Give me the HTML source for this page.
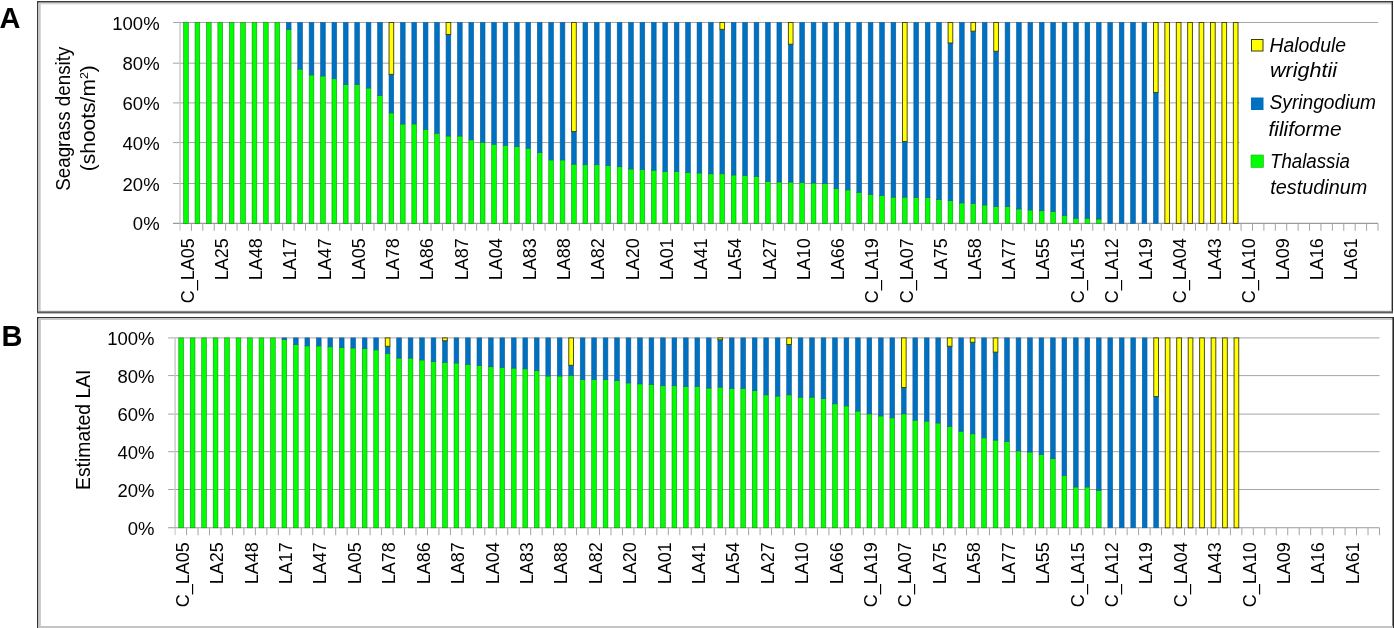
<!DOCTYPE html>
<html><head><meta charset="utf-8"><style>
html,body{margin:0;padding:0;background:#fff;}
body{width:1394px;height:628px;overflow:hidden;}
svg{display:block;will-change:transform;}
text{font-family:"Liberation Sans",sans-serif;fill:#000;}
.t18{font-size:18.5px;}
.tx{font-size:18px;}
.t185{font-size:19.5px;}
.leg{font-size:19.5px;font-style:italic;}
.big{font-size:29px;font-weight:bold;}
</style></head><body>
<svg width="1394" height="628" viewBox="0 0 1394 628">
<rect x="0" y="0" width="1394" height="628" fill="#fff"/>

<!-- panel A frame -->
<rect x="37" y="1" width="1356" height="1.3" fill="#3a3a3a"/>
<rect x="38" y="2.3" width="1354" height="1" fill="#8a8a8a"/>
<rect x="38" y="3.3" width="1354" height="1" fill="#d0d0d0"/>
<rect x="37" y="1" width="1.3" height="312" fill="#3a3a3a"/>
<rect x="38.3" y="3" width="2.4" height="308" fill="#c8c8c8"/>
<rect x="1391.6" y="1" width="1.4" height="312" fill="#2a2a2a"/>
<rect x="37" y="311.2" width="1356" height="2.2" fill="#5a5a5a"/>
<rect x="38" y="310.6" width="1354" height="0.6" fill="#c8c8c8"/>
<!-- panel B frame -->
<rect x="37" y="317" width="1357" height="1.2" fill="#333"/>
<rect x="38" y="318.2" width="1355" height="1.8" fill="#c4c4c4"/>
<rect x="37" y="317" width="1.4" height="311" fill="#333"/>
<rect x="38.4" y="319" width="2.5" height="309" fill="#c8c8c8"/>
<rect x="1392.4" y="317" width="1.6" height="311" fill="#2a2a2a"/>
<rect x="38" y="626" width="1355" height="2" fill="#c4c4c4"/>

<line x1="173" y1="183.5" x2="1239.5" y2="183.5" stroke="#a6a6a6" stroke-width="1"/>
<line x1="173" y1="142.6" x2="1239.5" y2="142.6" stroke="#a6a6a6" stroke-width="1"/>
<line x1="173" y1="102.9" x2="1239.5" y2="102.9" stroke="#a6a6a6" stroke-width="1"/>
<line x1="173" y1="63.2" x2="1239.5" y2="63.2" stroke="#a6a6a6" stroke-width="1"/>
<line x1="173" y1="22.5" x2="1378" y2="22.5" stroke="#a6a6a6" stroke-width="1"/>
<line x1="180" y1="22.5" x2="180" y2="223.4" stroke="#c4c4c4" stroke-width="1.3"/>
<line x1="173" y1="223.4" x2="1378" y2="223.4" stroke="#9a9a9a" stroke-width="1.1"/>
<line x1="180" y1="223.4" x2="180" y2="230.8" stroke="#c4c4c4" stroke-width="1"/>
<line x1="191.41" y1="223.4" x2="191.41" y2="230.8" stroke="#a4a4a4" stroke-width="1"/>
<line x1="202.82" y1="223.4" x2="202.82" y2="230.8" stroke="#a4a4a4" stroke-width="1"/>
<line x1="214.23" y1="223.4" x2="214.23" y2="230.8" stroke="#a4a4a4" stroke-width="1"/>
<line x1="225.64" y1="223.4" x2="225.64" y2="230.8" stroke="#a4a4a4" stroke-width="1"/>
<line x1="237.05" y1="223.4" x2="237.05" y2="230.8" stroke="#a4a4a4" stroke-width="1"/>
<line x1="248.46" y1="223.4" x2="248.46" y2="230.8" stroke="#a4a4a4" stroke-width="1"/>
<line x1="259.87" y1="223.4" x2="259.87" y2="230.8" stroke="#a4a4a4" stroke-width="1"/>
<line x1="271.28" y1="223.4" x2="271.28" y2="230.8" stroke="#a4a4a4" stroke-width="1"/>
<line x1="282.69" y1="223.4" x2="282.69" y2="230.8" stroke="#a4a4a4" stroke-width="1"/>
<line x1="294.1" y1="223.4" x2="294.1" y2="230.8" stroke="#a4a4a4" stroke-width="1"/>
<line x1="305.5" y1="223.4" x2="305.5" y2="230.8" stroke="#a4a4a4" stroke-width="1"/>
<line x1="316.91" y1="223.4" x2="316.91" y2="230.8" stroke="#a4a4a4" stroke-width="1"/>
<line x1="328.32" y1="223.4" x2="328.32" y2="230.8" stroke="#a4a4a4" stroke-width="1"/>
<line x1="339.73" y1="223.4" x2="339.73" y2="230.8" stroke="#a4a4a4" stroke-width="1"/>
<line x1="351.14" y1="223.4" x2="351.14" y2="230.8" stroke="#a4a4a4" stroke-width="1"/>
<line x1="362.55" y1="223.4" x2="362.55" y2="230.8" stroke="#a4a4a4" stroke-width="1"/>
<line x1="373.96" y1="223.4" x2="373.96" y2="230.8" stroke="#a4a4a4" stroke-width="1"/>
<line x1="385.37" y1="223.4" x2="385.37" y2="230.8" stroke="#a4a4a4" stroke-width="1"/>
<line x1="396.78" y1="223.4" x2="396.78" y2="230.8" stroke="#a4a4a4" stroke-width="1"/>
<line x1="408.19" y1="223.4" x2="408.19" y2="230.8" stroke="#a4a4a4" stroke-width="1"/>
<line x1="419.6" y1="223.4" x2="419.6" y2="230.8" stroke="#a4a4a4" stroke-width="1"/>
<line x1="431.01" y1="223.4" x2="431.01" y2="230.8" stroke="#a4a4a4" stroke-width="1"/>
<line x1="442.42" y1="223.4" x2="442.42" y2="230.8" stroke="#a4a4a4" stroke-width="1"/>
<line x1="453.83" y1="223.4" x2="453.83" y2="230.8" stroke="#a4a4a4" stroke-width="1"/>
<line x1="465.24" y1="223.4" x2="465.24" y2="230.8" stroke="#a4a4a4" stroke-width="1"/>
<line x1="476.65" y1="223.4" x2="476.65" y2="230.8" stroke="#a4a4a4" stroke-width="1"/>
<line x1="488.06" y1="223.4" x2="488.06" y2="230.8" stroke="#a4a4a4" stroke-width="1"/>
<line x1="499.47" y1="223.4" x2="499.47" y2="230.8" stroke="#a4a4a4" stroke-width="1"/>
<line x1="510.88" y1="223.4" x2="510.88" y2="230.8" stroke="#a4a4a4" stroke-width="1"/>
<line x1="522.29" y1="223.4" x2="522.29" y2="230.8" stroke="#a4a4a4" stroke-width="1"/>
<line x1="533.7" y1="223.4" x2="533.7" y2="230.8" stroke="#a4a4a4" stroke-width="1"/>
<line x1="545.1" y1="223.4" x2="545.1" y2="230.8" stroke="#a4a4a4" stroke-width="1"/>
<line x1="556.51" y1="223.4" x2="556.51" y2="230.8" stroke="#a4a4a4" stroke-width="1"/>
<line x1="567.92" y1="223.4" x2="567.92" y2="230.8" stroke="#a4a4a4" stroke-width="1"/>
<line x1="579.33" y1="223.4" x2="579.33" y2="230.8" stroke="#a4a4a4" stroke-width="1"/>
<line x1="590.74" y1="223.4" x2="590.74" y2="230.8" stroke="#a4a4a4" stroke-width="1"/>
<line x1="602.15" y1="223.4" x2="602.15" y2="230.8" stroke="#a4a4a4" stroke-width="1"/>
<line x1="613.56" y1="223.4" x2="613.56" y2="230.8" stroke="#a4a4a4" stroke-width="1"/>
<line x1="624.97" y1="223.4" x2="624.97" y2="230.8" stroke="#a4a4a4" stroke-width="1"/>
<line x1="636.38" y1="223.4" x2="636.38" y2="230.8" stroke="#a4a4a4" stroke-width="1"/>
<line x1="647.79" y1="223.4" x2="647.79" y2="230.8" stroke="#a4a4a4" stroke-width="1"/>
<line x1="659.2" y1="223.4" x2="659.2" y2="230.8" stroke="#a4a4a4" stroke-width="1"/>
<line x1="670.61" y1="223.4" x2="670.61" y2="230.8" stroke="#a4a4a4" stroke-width="1"/>
<line x1="682.02" y1="223.4" x2="682.02" y2="230.8" stroke="#a4a4a4" stroke-width="1"/>
<line x1="693.43" y1="223.4" x2="693.43" y2="230.8" stroke="#a4a4a4" stroke-width="1"/>
<line x1="704.84" y1="223.4" x2="704.84" y2="230.8" stroke="#a4a4a4" stroke-width="1"/>
<line x1="716.25" y1="223.4" x2="716.25" y2="230.8" stroke="#a4a4a4" stroke-width="1"/>
<line x1="727.66" y1="223.4" x2="727.66" y2="230.8" stroke="#a4a4a4" stroke-width="1"/>
<line x1="739.07" y1="223.4" x2="739.07" y2="230.8" stroke="#a4a4a4" stroke-width="1"/>
<line x1="750.48" y1="223.4" x2="750.48" y2="230.8" stroke="#a4a4a4" stroke-width="1"/>
<line x1="761.89" y1="223.4" x2="761.89" y2="230.8" stroke="#a4a4a4" stroke-width="1"/>
<line x1="773.3" y1="223.4" x2="773.3" y2="230.8" stroke="#a4a4a4" stroke-width="1"/>
<line x1="784.7" y1="223.4" x2="784.7" y2="230.8" stroke="#a4a4a4" stroke-width="1"/>
<line x1="796.11" y1="223.4" x2="796.11" y2="230.8" stroke="#a4a4a4" stroke-width="1"/>
<line x1="807.52" y1="223.4" x2="807.52" y2="230.8" stroke="#a4a4a4" stroke-width="1"/>
<line x1="818.93" y1="223.4" x2="818.93" y2="230.8" stroke="#a4a4a4" stroke-width="1"/>
<line x1="830.34" y1="223.4" x2="830.34" y2="230.8" stroke="#a4a4a4" stroke-width="1"/>
<line x1="841.75" y1="223.4" x2="841.75" y2="230.8" stroke="#a4a4a4" stroke-width="1"/>
<line x1="853.16" y1="223.4" x2="853.16" y2="230.8" stroke="#a4a4a4" stroke-width="1"/>
<line x1="864.57" y1="223.4" x2="864.57" y2="230.8" stroke="#a4a4a4" stroke-width="1"/>
<line x1="875.98" y1="223.4" x2="875.98" y2="230.8" stroke="#a4a4a4" stroke-width="1"/>
<line x1="887.39" y1="223.4" x2="887.39" y2="230.8" stroke="#a4a4a4" stroke-width="1"/>
<line x1="898.8" y1="223.4" x2="898.8" y2="230.8" stroke="#a4a4a4" stroke-width="1"/>
<line x1="910.21" y1="223.4" x2="910.21" y2="230.8" stroke="#a4a4a4" stroke-width="1"/>
<line x1="921.62" y1="223.4" x2="921.62" y2="230.8" stroke="#a4a4a4" stroke-width="1"/>
<line x1="933.03" y1="223.4" x2="933.03" y2="230.8" stroke="#a4a4a4" stroke-width="1"/>
<line x1="944.44" y1="223.4" x2="944.44" y2="230.8" stroke="#a4a4a4" stroke-width="1"/>
<line x1="955.85" y1="223.4" x2="955.85" y2="230.8" stroke="#a4a4a4" stroke-width="1"/>
<line x1="967.26" y1="223.4" x2="967.26" y2="230.8" stroke="#a4a4a4" stroke-width="1"/>
<line x1="978.67" y1="223.4" x2="978.67" y2="230.8" stroke="#a4a4a4" stroke-width="1"/>
<line x1="990.08" y1="223.4" x2="990.08" y2="230.8" stroke="#a4a4a4" stroke-width="1"/>
<line x1="1001.49" y1="223.4" x2="1001.49" y2="230.8" stroke="#a4a4a4" stroke-width="1"/>
<line x1="1012.9" y1="223.4" x2="1012.9" y2="230.8" stroke="#a4a4a4" stroke-width="1"/>
<line x1="1024.3" y1="223.4" x2="1024.3" y2="230.8" stroke="#a4a4a4" stroke-width="1"/>
<line x1="1035.71" y1="223.4" x2="1035.71" y2="230.8" stroke="#a4a4a4" stroke-width="1"/>
<line x1="1047.12" y1="223.4" x2="1047.12" y2="230.8" stroke="#a4a4a4" stroke-width="1"/>
<line x1="1058.53" y1="223.4" x2="1058.53" y2="230.8" stroke="#a4a4a4" stroke-width="1"/>
<line x1="1069.94" y1="223.4" x2="1069.94" y2="230.8" stroke="#a4a4a4" stroke-width="1"/>
<line x1="1081.35" y1="223.4" x2="1081.35" y2="230.8" stroke="#a4a4a4" stroke-width="1"/>
<line x1="1092.76" y1="223.4" x2="1092.76" y2="230.8" stroke="#a4a4a4" stroke-width="1"/>
<line x1="1104.17" y1="223.4" x2="1104.17" y2="230.8" stroke="#a4a4a4" stroke-width="1"/>
<line x1="1115.58" y1="223.4" x2="1115.58" y2="230.8" stroke="#a4a4a4" stroke-width="1"/>
<line x1="1126.99" y1="223.4" x2="1126.99" y2="230.8" stroke="#a4a4a4" stroke-width="1"/>
<line x1="1138.4" y1="223.4" x2="1138.4" y2="230.8" stroke="#a4a4a4" stroke-width="1"/>
<line x1="1149.81" y1="223.4" x2="1149.81" y2="230.8" stroke="#a4a4a4" stroke-width="1"/>
<line x1="1161.22" y1="223.4" x2="1161.22" y2="230.8" stroke="#a4a4a4" stroke-width="1"/>
<line x1="1172.63" y1="223.4" x2="1172.63" y2="230.8" stroke="#a4a4a4" stroke-width="1"/>
<line x1="1184.04" y1="223.4" x2="1184.04" y2="230.8" stroke="#a4a4a4" stroke-width="1"/>
<line x1="1195.45" y1="223.4" x2="1195.45" y2="230.8" stroke="#a4a4a4" stroke-width="1"/>
<line x1="1206.86" y1="223.4" x2="1206.86" y2="230.8" stroke="#a4a4a4" stroke-width="1"/>
<line x1="1218.27" y1="223.4" x2="1218.27" y2="230.8" stroke="#a4a4a4" stroke-width="1"/>
<line x1="1229.68" y1="223.4" x2="1229.68" y2="230.8" stroke="#a4a4a4" stroke-width="1"/>
<line x1="1241.09" y1="223.4" x2="1241.09" y2="230.8" stroke="#a4a4a4" stroke-width="1"/>
<line x1="1252.5" y1="223.4" x2="1252.5" y2="230.8" stroke="#a4a4a4" stroke-width="1"/>
<line x1="1263.9" y1="223.4" x2="1263.9" y2="230.8" stroke="#a4a4a4" stroke-width="1"/>
<line x1="1275.31" y1="223.4" x2="1275.31" y2="230.8" stroke="#a4a4a4" stroke-width="1"/>
<line x1="1286.72" y1="223.4" x2="1286.72" y2="230.8" stroke="#a4a4a4" stroke-width="1"/>
<line x1="1298.13" y1="223.4" x2="1298.13" y2="230.8" stroke="#a4a4a4" stroke-width="1"/>
<line x1="1309.54" y1="223.4" x2="1309.54" y2="230.8" stroke="#a4a4a4" stroke-width="1"/>
<line x1="1320.95" y1="223.4" x2="1320.95" y2="230.8" stroke="#a4a4a4" stroke-width="1"/>
<line x1="1332.36" y1="223.4" x2="1332.36" y2="230.8" stroke="#a4a4a4" stroke-width="1"/>
<line x1="1343.77" y1="223.4" x2="1343.77" y2="230.8" stroke="#a4a4a4" stroke-width="1"/>
<line x1="1355.18" y1="223.4" x2="1355.18" y2="230.8" stroke="#a4a4a4" stroke-width="1"/>
<line x1="1366.59" y1="223.4" x2="1366.59" y2="230.8" stroke="#a4a4a4" stroke-width="1"/>
<line x1="1378" y1="223.4" x2="1378" y2="230.8" stroke="#a4a4a4" stroke-width="1"/>
<rect x="183.65" y="22.5" width="4.7" height="200.9" fill="#00ff00" stroke="#1a8a1a" stroke-width="0.6"/>
<rect x="195.06" y="22.5" width="4.7" height="200.9" fill="#00ff00" stroke="#1a8a1a" stroke-width="0.6"/>
<rect x="206.47" y="22.5" width="4.7" height="200.9" fill="#00ff00" stroke="#1a8a1a" stroke-width="0.6"/>
<rect x="217.88" y="22.5" width="4.7" height="200.9" fill="#00ff00" stroke="#1a8a1a" stroke-width="0.6"/>
<rect x="229.29" y="22.5" width="4.7" height="200.9" fill="#00ff00" stroke="#1a8a1a" stroke-width="0.6"/>
<rect x="240.7" y="22.5" width="4.7" height="200.9" fill="#00ff00" stroke="#1a8a1a" stroke-width="0.6"/>
<rect x="252.11" y="22.5" width="4.7" height="200.9" fill="#00ff00" stroke="#1a8a1a" stroke-width="0.6"/>
<rect x="263.52" y="22.5" width="4.7" height="200.9" fill="#00ff00" stroke="#1a8a1a" stroke-width="0.6"/>
<rect x="274.93" y="22.5" width="4.7" height="200.9" fill="#00ff00" stroke="#1a8a1a" stroke-width="0.6"/>
<rect x="286.34" y="29.33" width="4.7" height="194.07" fill="#00ff00" stroke="#1a8a1a" stroke-width="0.6"/>
<rect x="286.34" y="22.5" width="4.7" height="6.83" fill="#0070c0" stroke="#0b5e9c" stroke-width="0.6"/>
<rect x="297.75" y="69.11" width="4.7" height="154.29" fill="#00ff00" stroke="#1a8a1a" stroke-width="0.6"/>
<rect x="297.75" y="22.5" width="4.7" height="46.61" fill="#0070c0" stroke="#0b5e9c" stroke-width="0.6"/>
<rect x="309.16" y="74.93" width="4.7" height="148.47" fill="#00ff00" stroke="#1a8a1a" stroke-width="0.6"/>
<rect x="309.16" y="22.5" width="4.7" height="52.43" fill="#0070c0" stroke="#0b5e9c" stroke-width="0.6"/>
<rect x="320.57" y="75.94" width="4.7" height="147.46" fill="#00ff00" stroke="#1a8a1a" stroke-width="0.6"/>
<rect x="320.57" y="22.5" width="4.7" height="53.44" fill="#0070c0" stroke="#0b5e9c" stroke-width="0.6"/>
<rect x="331.98" y="78.75" width="4.7" height="144.65" fill="#00ff00" stroke="#1a8a1a" stroke-width="0.6"/>
<rect x="331.98" y="22.5" width="4.7" height="56.25" fill="#0070c0" stroke="#0b5e9c" stroke-width="0.6"/>
<rect x="343.39" y="84.58" width="4.7" height="138.82" fill="#00ff00" stroke="#1a8a1a" stroke-width="0.6"/>
<rect x="343.39" y="22.5" width="4.7" height="62.08" fill="#0070c0" stroke="#0b5e9c" stroke-width="0.6"/>
<rect x="354.8" y="84.58" width="4.7" height="138.82" fill="#00ff00" stroke="#1a8a1a" stroke-width="0.6"/>
<rect x="354.8" y="22.5" width="4.7" height="62.08" fill="#0070c0" stroke="#0b5e9c" stroke-width="0.6"/>
<rect x="366.21" y="87.99" width="4.7" height="135.41" fill="#00ff00" stroke="#1a8a1a" stroke-width="0.6"/>
<rect x="366.21" y="22.5" width="4.7" height="65.49" fill="#0070c0" stroke="#0b5e9c" stroke-width="0.6"/>
<rect x="377.62" y="95.43" width="4.7" height="127.97" fill="#00ff00" stroke="#1a8a1a" stroke-width="0.6"/>
<rect x="377.62" y="22.5" width="4.7" height="72.93" fill="#0070c0" stroke="#0b5e9c" stroke-width="0.6"/>
<rect x="389.03" y="112.91" width="4.7" height="110.5" fill="#00ff00" stroke="#1a8a1a" stroke-width="0.6"/>
<rect x="389.03" y="74.33" width="4.7" height="38.57" fill="#0070c0" stroke="#0b5e9c" stroke-width="0.6"/>
<rect x="389.03" y="22.5" width="4.7" height="51.83" fill="#ffff00" stroke="#3c3a10" stroke-width="0.9"/>
<rect x="400.44" y="123.95" width="4.7" height="99.45" fill="#00ff00" stroke="#1a8a1a" stroke-width="0.6"/>
<rect x="400.44" y="22.5" width="4.7" height="101.45" fill="#0070c0" stroke="#0b5e9c" stroke-width="0.6"/>
<rect x="411.85" y="123.95" width="4.7" height="99.45" fill="#00ff00" stroke="#1a8a1a" stroke-width="0.6"/>
<rect x="411.85" y="22.5" width="4.7" height="101.45" fill="#0070c0" stroke="#0b5e9c" stroke-width="0.6"/>
<rect x="423.25" y="129.38" width="4.7" height="94.02" fill="#00ff00" stroke="#1a8a1a" stroke-width="0.6"/>
<rect x="423.25" y="22.5" width="4.7" height="106.88" fill="#0070c0" stroke="#0b5e9c" stroke-width="0.6"/>
<rect x="434.66" y="133.2" width="4.7" height="90.2" fill="#00ff00" stroke="#1a8a1a" stroke-width="0.6"/>
<rect x="434.66" y="22.5" width="4.7" height="110.7" fill="#0070c0" stroke="#0b5e9c" stroke-width="0.6"/>
<rect x="446.07" y="136.01" width="4.7" height="87.39" fill="#00ff00" stroke="#1a8a1a" stroke-width="0.6"/>
<rect x="446.07" y="34.55" width="4.7" height="101.45" fill="#0070c0" stroke="#0b5e9c" stroke-width="0.6"/>
<rect x="446.07" y="22.5" width="4.7" height="12.05" fill="#ffff00" stroke="#3c3a10" stroke-width="0.9"/>
<rect x="457.48" y="136.01" width="4.7" height="87.39" fill="#00ff00" stroke="#1a8a1a" stroke-width="0.6"/>
<rect x="457.48" y="22.5" width="4.7" height="113.51" fill="#0070c0" stroke="#0b5e9c" stroke-width="0.6"/>
<rect x="468.89" y="139.83" width="4.7" height="83.57" fill="#00ff00" stroke="#1a8a1a" stroke-width="0.6"/>
<rect x="468.89" y="22.5" width="4.7" height="117.33" fill="#0070c0" stroke="#0b5e9c" stroke-width="0.6"/>
<rect x="480.3" y="142.24" width="4.7" height="81.16" fill="#00ff00" stroke="#1a8a1a" stroke-width="0.6"/>
<rect x="480.3" y="22.5" width="4.7" height="119.74" fill="#0070c0" stroke="#0b5e9c" stroke-width="0.6"/>
<rect x="491.71" y="144.25" width="4.7" height="79.15" fill="#00ff00" stroke="#1a8a1a" stroke-width="0.6"/>
<rect x="491.71" y="22.5" width="4.7" height="121.75" fill="#0070c0" stroke="#0b5e9c" stroke-width="0.6"/>
<rect x="503.12" y="145.25" width="4.7" height="78.15" fill="#00ff00" stroke="#1a8a1a" stroke-width="0.6"/>
<rect x="503.12" y="22.5" width="4.7" height="122.75" fill="#0070c0" stroke="#0b5e9c" stroke-width="0.6"/>
<rect x="514.53" y="146.66" width="4.7" height="76.74" fill="#00ff00" stroke="#1a8a1a" stroke-width="0.6"/>
<rect x="514.53" y="22.5" width="4.7" height="124.16" fill="#0070c0" stroke="#0b5e9c" stroke-width="0.6"/>
<rect x="525.94" y="148.26" width="4.7" height="75.14" fill="#00ff00" stroke="#1a8a1a" stroke-width="0.6"/>
<rect x="525.94" y="22.5" width="4.7" height="125.76" fill="#0070c0" stroke="#0b5e9c" stroke-width="0.6"/>
<rect x="537.35" y="152.68" width="4.7" height="70.72" fill="#00ff00" stroke="#1a8a1a" stroke-width="0.6"/>
<rect x="537.35" y="22.5" width="4.7" height="130.18" fill="#0070c0" stroke="#0b5e9c" stroke-width="0.6"/>
<rect x="548.76" y="159.92" width="4.7" height="63.48" fill="#00ff00" stroke="#1a8a1a" stroke-width="0.6"/>
<rect x="548.76" y="22.5" width="4.7" height="137.42" fill="#0070c0" stroke="#0b5e9c" stroke-width="0.6"/>
<rect x="560.17" y="159.92" width="4.7" height="63.48" fill="#00ff00" stroke="#1a8a1a" stroke-width="0.6"/>
<rect x="560.17" y="22.5" width="4.7" height="137.42" fill="#0070c0" stroke="#0b5e9c" stroke-width="0.6"/>
<rect x="571.58" y="164.13" width="4.7" height="59.27" fill="#00ff00" stroke="#1a8a1a" stroke-width="0.6"/>
<rect x="571.58" y="131.59" width="4.7" height="32.55" fill="#0070c0" stroke="#0b5e9c" stroke-width="0.6"/>
<rect x="571.58" y="22.5" width="4.7" height="109.09" fill="#ffff00" stroke="#3c3a10" stroke-width="0.9"/>
<rect x="582.99" y="164.74" width="4.7" height="58.66" fill="#00ff00" stroke="#1a8a1a" stroke-width="0.6"/>
<rect x="582.99" y="22.5" width="4.7" height="142.24" fill="#0070c0" stroke="#0b5e9c" stroke-width="0.6"/>
<rect x="594.4" y="164.74" width="4.7" height="58.66" fill="#00ff00" stroke="#1a8a1a" stroke-width="0.6"/>
<rect x="594.4" y="22.5" width="4.7" height="142.24" fill="#0070c0" stroke="#0b5e9c" stroke-width="0.6"/>
<rect x="605.81" y="165.74" width="4.7" height="57.66" fill="#00ff00" stroke="#1a8a1a" stroke-width="0.6"/>
<rect x="605.81" y="22.5" width="4.7" height="143.24" fill="#0070c0" stroke="#0b5e9c" stroke-width="0.6"/>
<rect x="617.22" y="166.75" width="4.7" height="56.65" fill="#00ff00" stroke="#1a8a1a" stroke-width="0.6"/>
<rect x="617.22" y="22.5" width="4.7" height="144.25" fill="#0070c0" stroke="#0b5e9c" stroke-width="0.6"/>
<rect x="628.63" y="168.96" width="4.7" height="54.44" fill="#00ff00" stroke="#1a8a1a" stroke-width="0.6"/>
<rect x="628.63" y="22.5" width="4.7" height="146.46" fill="#0070c0" stroke="#0b5e9c" stroke-width="0.6"/>
<rect x="640.04" y="169.56" width="4.7" height="53.84" fill="#00ff00" stroke="#1a8a1a" stroke-width="0.6"/>
<rect x="640.04" y="22.5" width="4.7" height="147.06" fill="#0070c0" stroke="#0b5e9c" stroke-width="0.6"/>
<rect x="651.45" y="170.16" width="4.7" height="53.24" fill="#00ff00" stroke="#1a8a1a" stroke-width="0.6"/>
<rect x="651.45" y="22.5" width="4.7" height="147.66" fill="#0070c0" stroke="#0b5e9c" stroke-width="0.6"/>
<rect x="662.85" y="171.57" width="4.7" height="51.83" fill="#00ff00" stroke="#1a8a1a" stroke-width="0.6"/>
<rect x="662.85" y="22.5" width="4.7" height="149.07" fill="#0070c0" stroke="#0b5e9c" stroke-width="0.6"/>
<rect x="674.26" y="171.57" width="4.7" height="51.83" fill="#00ff00" stroke="#1a8a1a" stroke-width="0.6"/>
<rect x="674.26" y="22.5" width="4.7" height="149.07" fill="#0070c0" stroke="#0b5e9c" stroke-width="0.6"/>
<rect x="685.67" y="172.37" width="4.7" height="51.03" fill="#00ff00" stroke="#1a8a1a" stroke-width="0.6"/>
<rect x="685.67" y="22.5" width="4.7" height="149.87" fill="#0070c0" stroke="#0b5e9c" stroke-width="0.6"/>
<rect x="697.08" y="172.97" width="4.7" height="50.43" fill="#00ff00" stroke="#1a8a1a" stroke-width="0.6"/>
<rect x="697.08" y="22.5" width="4.7" height="150.47" fill="#0070c0" stroke="#0b5e9c" stroke-width="0.6"/>
<rect x="708.49" y="173.78" width="4.7" height="49.62" fill="#00ff00" stroke="#1a8a1a" stroke-width="0.6"/>
<rect x="708.49" y="22.5" width="4.7" height="151.28" fill="#0070c0" stroke="#0b5e9c" stroke-width="0.6"/>
<rect x="719.9" y="173.78" width="4.7" height="49.62" fill="#00ff00" stroke="#1a8a1a" stroke-width="0.6"/>
<rect x="719.9" y="29.33" width="4.7" height="144.45" fill="#0070c0" stroke="#0b5e9c" stroke-width="0.6"/>
<rect x="719.9" y="22.5" width="4.7" height="6.83" fill="#ffff00" stroke="#3c3a10" stroke-width="0.9"/>
<rect x="731.31" y="174.98" width="4.7" height="48.42" fill="#00ff00" stroke="#1a8a1a" stroke-width="0.6"/>
<rect x="731.31" y="22.5" width="4.7" height="152.48" fill="#0070c0" stroke="#0b5e9c" stroke-width="0.6"/>
<rect x="742.72" y="175.38" width="4.7" height="48.02" fill="#00ff00" stroke="#1a8a1a" stroke-width="0.6"/>
<rect x="742.72" y="22.5" width="4.7" height="152.88" fill="#0070c0" stroke="#0b5e9c" stroke-width="0.6"/>
<rect x="754.13" y="176.39" width="4.7" height="47.01" fill="#00ff00" stroke="#1a8a1a" stroke-width="0.6"/>
<rect x="754.13" y="22.5" width="4.7" height="153.89" fill="#0070c0" stroke="#0b5e9c" stroke-width="0.6"/>
<rect x="765.54" y="181.21" width="4.7" height="42.19" fill="#00ff00" stroke="#1a8a1a" stroke-width="0.6"/>
<rect x="765.54" y="22.5" width="4.7" height="158.71" fill="#0070c0" stroke="#0b5e9c" stroke-width="0.6"/>
<rect x="776.95" y="182.01" width="4.7" height="41.39" fill="#00ff00" stroke="#1a8a1a" stroke-width="0.6"/>
<rect x="776.95" y="22.5" width="4.7" height="159.51" fill="#0070c0" stroke="#0b5e9c" stroke-width="0.6"/>
<rect x="788.36" y="182.01" width="4.7" height="41.39" fill="#00ff00" stroke="#1a8a1a" stroke-width="0.6"/>
<rect x="788.36" y="44.2" width="4.7" height="137.82" fill="#0070c0" stroke="#0b5e9c" stroke-width="0.6"/>
<rect x="788.36" y="22.5" width="4.7" height="21.7" fill="#ffff00" stroke="#3c3a10" stroke-width="0.9"/>
<rect x="799.77" y="182.62" width="4.7" height="40.78" fill="#00ff00" stroke="#1a8a1a" stroke-width="0.6"/>
<rect x="799.77" y="22.5" width="4.7" height="160.12" fill="#0070c0" stroke="#0b5e9c" stroke-width="0.6"/>
<rect x="811.18" y="183.02" width="4.7" height="40.38" fill="#00ff00" stroke="#1a8a1a" stroke-width="0.6"/>
<rect x="811.18" y="22.5" width="4.7" height="160.52" fill="#0070c0" stroke="#0b5e9c" stroke-width="0.6"/>
<rect x="822.59" y="183.62" width="4.7" height="39.78" fill="#00ff00" stroke="#1a8a1a" stroke-width="0.6"/>
<rect x="822.59" y="22.5" width="4.7" height="161.12" fill="#0070c0" stroke="#0b5e9c" stroke-width="0.6"/>
<rect x="834" y="188.44" width="4.7" height="34.96" fill="#00ff00" stroke="#1a8a1a" stroke-width="0.6"/>
<rect x="834" y="22.5" width="4.7" height="165.94" fill="#0070c0" stroke="#0b5e9c" stroke-width="0.6"/>
<rect x="845.41" y="189.85" width="4.7" height="33.55" fill="#00ff00" stroke="#1a8a1a" stroke-width="0.6"/>
<rect x="845.41" y="22.5" width="4.7" height="167.35" fill="#0070c0" stroke="#0b5e9c" stroke-width="0.6"/>
<rect x="856.82" y="192.46" width="4.7" height="30.94" fill="#00ff00" stroke="#1a8a1a" stroke-width="0.6"/>
<rect x="856.82" y="22.5" width="4.7" height="169.96" fill="#0070c0" stroke="#0b5e9c" stroke-width="0.6"/>
<rect x="868.23" y="194.27" width="4.7" height="29.13" fill="#00ff00" stroke="#1a8a1a" stroke-width="0.6"/>
<rect x="868.23" y="22.5" width="4.7" height="171.77" fill="#0070c0" stroke="#0b5e9c" stroke-width="0.6"/>
<rect x="879.64" y="195.68" width="4.7" height="27.72" fill="#00ff00" stroke="#1a8a1a" stroke-width="0.6"/>
<rect x="879.64" y="22.5" width="4.7" height="173.18" fill="#0070c0" stroke="#0b5e9c" stroke-width="0.6"/>
<rect x="891.05" y="197.08" width="4.7" height="26.32" fill="#00ff00" stroke="#1a8a1a" stroke-width="0.6"/>
<rect x="891.05" y="22.5" width="4.7" height="174.58" fill="#0070c0" stroke="#0b5e9c" stroke-width="0.6"/>
<rect x="902.45" y="197.08" width="4.7" height="26.32" fill="#00ff00" stroke="#1a8a1a" stroke-width="0.6"/>
<rect x="902.45" y="141.43" width="4.7" height="55.65" fill="#0070c0" stroke="#0b5e9c" stroke-width="0.6"/>
<rect x="902.45" y="22.5" width="4.7" height="118.93" fill="#ffff00" stroke="#3c3a10" stroke-width="0.9"/>
<rect x="913.86" y="197.68" width="4.7" height="25.72" fill="#00ff00" stroke="#1a8a1a" stroke-width="0.6"/>
<rect x="913.86" y="22.5" width="4.7" height="175.18" fill="#0070c0" stroke="#0b5e9c" stroke-width="0.6"/>
<rect x="925.27" y="197.68" width="4.7" height="25.72" fill="#00ff00" stroke="#1a8a1a" stroke-width="0.6"/>
<rect x="925.27" y="22.5" width="4.7" height="175.18" fill="#0070c0" stroke="#0b5e9c" stroke-width="0.6"/>
<rect x="936.68" y="199.49" width="4.7" height="23.91" fill="#00ff00" stroke="#1a8a1a" stroke-width="0.6"/>
<rect x="936.68" y="22.5" width="4.7" height="176.99" fill="#0070c0" stroke="#0b5e9c" stroke-width="0.6"/>
<rect x="948.09" y="200.7" width="4.7" height="22.7" fill="#00ff00" stroke="#1a8a1a" stroke-width="0.6"/>
<rect x="948.09" y="42.99" width="4.7" height="157.71" fill="#0070c0" stroke="#0b5e9c" stroke-width="0.6"/>
<rect x="948.09" y="22.5" width="4.7" height="20.49" fill="#ffff00" stroke="#3c3a10" stroke-width="0.9"/>
<rect x="959.5" y="202.91" width="4.7" height="20.49" fill="#00ff00" stroke="#1a8a1a" stroke-width="0.6"/>
<rect x="959.5" y="22.5" width="4.7" height="180.41" fill="#0070c0" stroke="#0b5e9c" stroke-width="0.6"/>
<rect x="970.91" y="203.51" width="4.7" height="19.89" fill="#00ff00" stroke="#1a8a1a" stroke-width="0.6"/>
<rect x="970.91" y="31.14" width="4.7" height="172.37" fill="#0070c0" stroke="#0b5e9c" stroke-width="0.6"/>
<rect x="970.91" y="22.5" width="4.7" height="8.64" fill="#ffff00" stroke="#3c3a10" stroke-width="0.9"/>
<rect x="982.32" y="204.92" width="4.7" height="18.48" fill="#00ff00" stroke="#1a8a1a" stroke-width="0.6"/>
<rect x="982.32" y="22.5" width="4.7" height="182.42" fill="#0070c0" stroke="#0b5e9c" stroke-width="0.6"/>
<rect x="993.73" y="206.32" width="4.7" height="17.08" fill="#00ff00" stroke="#1a8a1a" stroke-width="0.6"/>
<rect x="993.73" y="51.23" width="4.7" height="155.09" fill="#0070c0" stroke="#0b5e9c" stroke-width="0.6"/>
<rect x="993.73" y="22.5" width="4.7" height="28.73" fill="#ffff00" stroke="#3c3a10" stroke-width="0.9"/>
<rect x="1005.14" y="206.52" width="4.7" height="16.88" fill="#00ff00" stroke="#1a8a1a" stroke-width="0.6"/>
<rect x="1005.14" y="22.5" width="4.7" height="184.02" fill="#0070c0" stroke="#0b5e9c" stroke-width="0.6"/>
<rect x="1016.55" y="208.94" width="4.7" height="14.46" fill="#00ff00" stroke="#1a8a1a" stroke-width="0.6"/>
<rect x="1016.55" y="22.5" width="4.7" height="186.44" fill="#0070c0" stroke="#0b5e9c" stroke-width="0.6"/>
<rect x="1027.96" y="209.94" width="4.7" height="13.46" fill="#00ff00" stroke="#1a8a1a" stroke-width="0.6"/>
<rect x="1027.96" y="22.5" width="4.7" height="187.44" fill="#0070c0" stroke="#0b5e9c" stroke-width="0.6"/>
<rect x="1039.37" y="210.74" width="4.7" height="12.66" fill="#00ff00" stroke="#1a8a1a" stroke-width="0.6"/>
<rect x="1039.37" y="22.5" width="4.7" height="188.24" fill="#0070c0" stroke="#0b5e9c" stroke-width="0.6"/>
<rect x="1050.78" y="211.35" width="4.7" height="12.05" fill="#00ff00" stroke="#1a8a1a" stroke-width="0.6"/>
<rect x="1050.78" y="22.5" width="4.7" height="188.85" fill="#0070c0" stroke="#0b5e9c" stroke-width="0.6"/>
<rect x="1062.19" y="215.56" width="4.7" height="7.84" fill="#00ff00" stroke="#1a8a1a" stroke-width="0.6"/>
<rect x="1062.19" y="22.5" width="4.7" height="193.06" fill="#0070c0" stroke="#0b5e9c" stroke-width="0.6"/>
<rect x="1073.6" y="218.18" width="4.7" height="5.22" fill="#00ff00" stroke="#1a8a1a" stroke-width="0.6"/>
<rect x="1073.6" y="22.5" width="4.7" height="195.68" fill="#0070c0" stroke="#0b5e9c" stroke-width="0.6"/>
<rect x="1085.01" y="218.18" width="4.7" height="5.22" fill="#00ff00" stroke="#1a8a1a" stroke-width="0.6"/>
<rect x="1085.01" y="22.5" width="4.7" height="195.68" fill="#0070c0" stroke="#0b5e9c" stroke-width="0.6"/>
<rect x="1096.42" y="218.98" width="4.7" height="4.42" fill="#00ff00" stroke="#1a8a1a" stroke-width="0.6"/>
<rect x="1096.42" y="22.5" width="4.7" height="196.48" fill="#0070c0" stroke="#0b5e9c" stroke-width="0.6"/>
<rect x="1107.83" y="22.5" width="4.7" height="200.9" fill="#0070c0" stroke="#0b5e9c" stroke-width="0.6"/>
<rect x="1119.24" y="22.5" width="4.7" height="200.9" fill="#0070c0" stroke="#0b5e9c" stroke-width="0.6"/>
<rect x="1130.65" y="22.5" width="4.7" height="200.9" fill="#0070c0" stroke="#0b5e9c" stroke-width="0.6"/>
<rect x="1142.05" y="22.5" width="4.7" height="200.9" fill="#0070c0" stroke="#0b5e9c" stroke-width="0.6"/>
<rect x="1153.46" y="92.41" width="4.7" height="130.99" fill="#0070c0" stroke="#0b5e9c" stroke-width="0.6"/>
<rect x="1153.46" y="22.5" width="4.7" height="69.91" fill="#ffff00" stroke="#3c3a10" stroke-width="0.9"/>
<rect x="1164.87" y="22.5" width="4.7" height="200.9" fill="#ffff00" stroke="#3c3a10" stroke-width="0.9"/>
<rect x="1176.28" y="22.5" width="4.7" height="200.9" fill="#ffff00" stroke="#3c3a10" stroke-width="0.9"/>
<rect x="1187.69" y="22.5" width="4.7" height="200.9" fill="#ffff00" stroke="#3c3a10" stroke-width="0.9"/>
<rect x="1199.1" y="22.5" width="4.7" height="200.9" fill="#ffff00" stroke="#3c3a10" stroke-width="0.9"/>
<rect x="1210.51" y="22.5" width="4.7" height="200.9" fill="#ffff00" stroke="#3c3a10" stroke-width="0.9"/>
<rect x="1221.92" y="22.5" width="4.7" height="200.9" fill="#ffff00" stroke="#3c3a10" stroke-width="0.9"/>
<rect x="1233.33" y="22.5" width="4.7" height="200.9" fill="#ffff00" stroke="#3c3a10" stroke-width="0.9"/>
<text x="159.6" y="230.4" text-anchor="end" class="t18">0%</text>
<text x="159.6" y="190.5" text-anchor="end" class="t18">20%</text>
<text x="159.6" y="149.6" text-anchor="end" class="t18">40%</text>
<text x="159.6" y="109.9" text-anchor="end" class="t18">60%</text>
<text x="159.6" y="70.2" text-anchor="end" class="t18">80%</text>
<text x="159.6" y="29.5" text-anchor="end" class="t18">100%</text>
<text transform="translate(193.7,238.2) rotate(-90)" text-anchor="end" class="tx">C_LA05</text>
<text transform="translate(227.93,238.2) rotate(-90)" text-anchor="end" class="tx">LA25</text>
<text transform="translate(262.16,238.2) rotate(-90)" text-anchor="end" class="tx">LA48</text>
<text transform="translate(296.39,238.2) rotate(-90)" text-anchor="end" class="tx">LA17</text>
<text transform="translate(330.62,238.2) rotate(-90)" text-anchor="end" class="tx">LA47</text>
<text transform="translate(364.85,238.2) rotate(-90)" text-anchor="end" class="tx">LA05</text>
<text transform="translate(399.08,238.2) rotate(-90)" text-anchor="end" class="tx">LA78</text>
<text transform="translate(433.3,238.2) rotate(-90)" text-anchor="end" class="tx">LA86</text>
<text transform="translate(467.53,238.2) rotate(-90)" text-anchor="end" class="tx">LA87</text>
<text transform="translate(501.76,238.2) rotate(-90)" text-anchor="end" class="tx">LA04</text>
<text transform="translate(535.99,238.2) rotate(-90)" text-anchor="end" class="tx">LA83</text>
<text transform="translate(570.22,238.2) rotate(-90)" text-anchor="end" class="tx">LA88</text>
<text transform="translate(604.45,238.2) rotate(-90)" text-anchor="end" class="tx">LA82</text>
<text transform="translate(638.68,238.2) rotate(-90)" text-anchor="end" class="tx">LA20</text>
<text transform="translate(672.9,238.2) rotate(-90)" text-anchor="end" class="tx">LA01</text>
<text transform="translate(707.13,238.2) rotate(-90)" text-anchor="end" class="tx">LA41</text>
<text transform="translate(741.36,238.2) rotate(-90)" text-anchor="end" class="tx">LA54</text>
<text transform="translate(775.59,238.2) rotate(-90)" text-anchor="end" class="tx">LA27</text>
<text transform="translate(809.82,238.2) rotate(-90)" text-anchor="end" class="tx">LA10</text>
<text transform="translate(844.05,238.2) rotate(-90)" text-anchor="end" class="tx">LA66</text>
<text transform="translate(878.28,238.2) rotate(-90)" text-anchor="end" class="tx">C_LA19</text>
<text transform="translate(912.5,238.2) rotate(-90)" text-anchor="end" class="tx">C_LA07</text>
<text transform="translate(946.73,238.2) rotate(-90)" text-anchor="end" class="tx">LA75</text>
<text transform="translate(980.96,238.2) rotate(-90)" text-anchor="end" class="tx">LA58</text>
<text transform="translate(1015.19,238.2) rotate(-90)" text-anchor="end" class="tx">LA77</text>
<text transform="translate(1049.42,238.2) rotate(-90)" text-anchor="end" class="tx">LA55</text>
<text transform="translate(1083.65,238.2) rotate(-90)" text-anchor="end" class="tx">C_LA15</text>
<text transform="translate(1117.88,238.2) rotate(-90)" text-anchor="end" class="tx">C_LA12</text>
<text transform="translate(1152.1,238.2) rotate(-90)" text-anchor="end" class="tx">LA19</text>
<text transform="translate(1186.33,238.2) rotate(-90)" text-anchor="end" class="tx">C_LA04</text>
<text transform="translate(1220.56,238.2) rotate(-90)" text-anchor="end" class="tx">LA43</text>
<text transform="translate(1254.79,238.2) rotate(-90)" text-anchor="end" class="tx">C_LA10</text>
<text transform="translate(1289.02,238.2) rotate(-90)" text-anchor="end" class="tx">LA09</text>
<text transform="translate(1323.25,238.2) rotate(-90)" text-anchor="end" class="tx">LA16</text>
<text transform="translate(1357.48,238.2) rotate(-90)" text-anchor="end" class="tx">LA61</text>
<rect x="1239.5" y="24" width="140" height="197.5" fill="#fff"/>

<rect x="1251.5" y="39.5" width="11.5" height="11.5" fill="#ffff00" stroke="#3c3a10" stroke-width="1"/>
<rect x="1251" y="97.5" width="12.5" height="12.5" fill="#0070c0"/>
<rect x="1251" y="155" width="12.5" height="12.5" fill="#00ff00" stroke="#22aa22" stroke-width="0.6"/>
<text class="leg" x="1269.5" y="51.8" textLength="76.5" lengthAdjust="spacingAndGlyphs">Halodule</text>
<text class="leg" x="1270" y="77.2" textLength="67" lengthAdjust="spacingAndGlyphs">wrightii</text>
<text class="leg" x="1269.5" y="109.2" textLength="106.6" lengthAdjust="spacingAndGlyphs">Syringodium</text>
<text class="leg" x="1268.5" y="135.6" textLength="73" lengthAdjust="spacingAndGlyphs">filiforme</text>
<text class="leg" x="1270" y="167.9" textLength="80" lengthAdjust="spacingAndGlyphs">Thalassia</text>
<text class="leg" x="1270.3" y="194" textLength="97" lengthAdjust="spacingAndGlyphs">testudinum</text>

<line x1="168.1" y1="489.5" x2="1379.5" y2="489.5" stroke="#a6a6a6" stroke-width="1"/>
<line x1="168.1" y1="451.7" x2="1379.5" y2="451.7" stroke="#a6a6a6" stroke-width="1"/>
<line x1="168.1" y1="414.1" x2="1379.5" y2="414.1" stroke="#a6a6a6" stroke-width="1"/>
<line x1="168.1" y1="375.6" x2="1379.5" y2="375.6" stroke="#a6a6a6" stroke-width="1"/>
<line x1="168.1" y1="337.9" x2="1379.5" y2="337.9" stroke="#a6a6a6" stroke-width="1"/>
<line x1="175.1" y1="337.9" x2="175.1" y2="527.8" stroke="#c4c4c4" stroke-width="1.3"/>
<line x1="168.1" y1="527.8" x2="1379.5" y2="527.8" stroke="#9a9a9a" stroke-width="1.1"/>
<line x1="175.1" y1="527.8" x2="175.1" y2="535.2" stroke="#c4c4c4" stroke-width="1"/>
<line x1="186.57" y1="527.8" x2="186.57" y2="535.2" stroke="#a4a4a4" stroke-width="1"/>
<line x1="198.04" y1="527.8" x2="198.04" y2="535.2" stroke="#a4a4a4" stroke-width="1"/>
<line x1="209.51" y1="527.8" x2="209.51" y2="535.2" stroke="#a4a4a4" stroke-width="1"/>
<line x1="220.98" y1="527.8" x2="220.98" y2="535.2" stroke="#a4a4a4" stroke-width="1"/>
<line x1="232.45" y1="527.8" x2="232.45" y2="535.2" stroke="#a4a4a4" stroke-width="1"/>
<line x1="243.92" y1="527.8" x2="243.92" y2="535.2" stroke="#a4a4a4" stroke-width="1"/>
<line x1="255.39" y1="527.8" x2="255.39" y2="535.2" stroke="#a4a4a4" stroke-width="1"/>
<line x1="266.86" y1="527.8" x2="266.86" y2="535.2" stroke="#a4a4a4" stroke-width="1"/>
<line x1="278.33" y1="527.8" x2="278.33" y2="535.2" stroke="#a4a4a4" stroke-width="1"/>
<line x1="289.8" y1="527.8" x2="289.8" y2="535.2" stroke="#a4a4a4" stroke-width="1"/>
<line x1="301.28" y1="527.8" x2="301.28" y2="535.2" stroke="#a4a4a4" stroke-width="1"/>
<line x1="312.75" y1="527.8" x2="312.75" y2="535.2" stroke="#a4a4a4" stroke-width="1"/>
<line x1="324.22" y1="527.8" x2="324.22" y2="535.2" stroke="#a4a4a4" stroke-width="1"/>
<line x1="335.69" y1="527.8" x2="335.69" y2="535.2" stroke="#a4a4a4" stroke-width="1"/>
<line x1="347.16" y1="527.8" x2="347.16" y2="535.2" stroke="#a4a4a4" stroke-width="1"/>
<line x1="358.63" y1="527.8" x2="358.63" y2="535.2" stroke="#a4a4a4" stroke-width="1"/>
<line x1="370.1" y1="527.8" x2="370.1" y2="535.2" stroke="#a4a4a4" stroke-width="1"/>
<line x1="381.57" y1="527.8" x2="381.57" y2="535.2" stroke="#a4a4a4" stroke-width="1"/>
<line x1="393.04" y1="527.8" x2="393.04" y2="535.2" stroke="#a4a4a4" stroke-width="1"/>
<line x1="404.51" y1="527.8" x2="404.51" y2="535.2" stroke="#a4a4a4" stroke-width="1"/>
<line x1="415.98" y1="527.8" x2="415.98" y2="535.2" stroke="#a4a4a4" stroke-width="1"/>
<line x1="427.45" y1="527.8" x2="427.45" y2="535.2" stroke="#a4a4a4" stroke-width="1"/>
<line x1="438.92" y1="527.8" x2="438.92" y2="535.2" stroke="#a4a4a4" stroke-width="1"/>
<line x1="450.39" y1="527.8" x2="450.39" y2="535.2" stroke="#a4a4a4" stroke-width="1"/>
<line x1="461.86" y1="527.8" x2="461.86" y2="535.2" stroke="#a4a4a4" stroke-width="1"/>
<line x1="473.33" y1="527.8" x2="473.33" y2="535.2" stroke="#a4a4a4" stroke-width="1"/>
<line x1="484.8" y1="527.8" x2="484.8" y2="535.2" stroke="#a4a4a4" stroke-width="1"/>
<line x1="496.27" y1="527.8" x2="496.27" y2="535.2" stroke="#a4a4a4" stroke-width="1"/>
<line x1="507.74" y1="527.8" x2="507.74" y2="535.2" stroke="#a4a4a4" stroke-width="1"/>
<line x1="519.21" y1="527.8" x2="519.21" y2="535.2" stroke="#a4a4a4" stroke-width="1"/>
<line x1="530.68" y1="527.8" x2="530.68" y2="535.2" stroke="#a4a4a4" stroke-width="1"/>
<line x1="542.16" y1="527.8" x2="542.16" y2="535.2" stroke="#a4a4a4" stroke-width="1"/>
<line x1="553.63" y1="527.8" x2="553.63" y2="535.2" stroke="#a4a4a4" stroke-width="1"/>
<line x1="565.1" y1="527.8" x2="565.1" y2="535.2" stroke="#a4a4a4" stroke-width="1"/>
<line x1="576.57" y1="527.8" x2="576.57" y2="535.2" stroke="#a4a4a4" stroke-width="1"/>
<line x1="588.04" y1="527.8" x2="588.04" y2="535.2" stroke="#a4a4a4" stroke-width="1"/>
<line x1="599.51" y1="527.8" x2="599.51" y2="535.2" stroke="#a4a4a4" stroke-width="1"/>
<line x1="610.98" y1="527.8" x2="610.98" y2="535.2" stroke="#a4a4a4" stroke-width="1"/>
<line x1="622.45" y1="527.8" x2="622.45" y2="535.2" stroke="#a4a4a4" stroke-width="1"/>
<line x1="633.92" y1="527.8" x2="633.92" y2="535.2" stroke="#a4a4a4" stroke-width="1"/>
<line x1="645.39" y1="527.8" x2="645.39" y2="535.2" stroke="#a4a4a4" stroke-width="1"/>
<line x1="656.86" y1="527.8" x2="656.86" y2="535.2" stroke="#a4a4a4" stroke-width="1"/>
<line x1="668.33" y1="527.8" x2="668.33" y2="535.2" stroke="#a4a4a4" stroke-width="1"/>
<line x1="679.8" y1="527.8" x2="679.8" y2="535.2" stroke="#a4a4a4" stroke-width="1"/>
<line x1="691.27" y1="527.8" x2="691.27" y2="535.2" stroke="#a4a4a4" stroke-width="1"/>
<line x1="702.74" y1="527.8" x2="702.74" y2="535.2" stroke="#a4a4a4" stroke-width="1"/>
<line x1="714.21" y1="527.8" x2="714.21" y2="535.2" stroke="#a4a4a4" stroke-width="1"/>
<line x1="725.68" y1="527.8" x2="725.68" y2="535.2" stroke="#a4a4a4" stroke-width="1"/>
<line x1="737.15" y1="527.8" x2="737.15" y2="535.2" stroke="#a4a4a4" stroke-width="1"/>
<line x1="748.62" y1="527.8" x2="748.62" y2="535.2" stroke="#a4a4a4" stroke-width="1"/>
<line x1="760.09" y1="527.8" x2="760.09" y2="535.2" stroke="#a4a4a4" stroke-width="1"/>
<line x1="771.56" y1="527.8" x2="771.56" y2="535.2" stroke="#a4a4a4" stroke-width="1"/>
<line x1="783.04" y1="527.8" x2="783.04" y2="535.2" stroke="#a4a4a4" stroke-width="1"/>
<line x1="794.51" y1="527.8" x2="794.51" y2="535.2" stroke="#a4a4a4" stroke-width="1"/>
<line x1="805.98" y1="527.8" x2="805.98" y2="535.2" stroke="#a4a4a4" stroke-width="1"/>
<line x1="817.45" y1="527.8" x2="817.45" y2="535.2" stroke="#a4a4a4" stroke-width="1"/>
<line x1="828.92" y1="527.8" x2="828.92" y2="535.2" stroke="#a4a4a4" stroke-width="1"/>
<line x1="840.39" y1="527.8" x2="840.39" y2="535.2" stroke="#a4a4a4" stroke-width="1"/>
<line x1="851.86" y1="527.8" x2="851.86" y2="535.2" stroke="#a4a4a4" stroke-width="1"/>
<line x1="863.33" y1="527.8" x2="863.33" y2="535.2" stroke="#a4a4a4" stroke-width="1"/>
<line x1="874.8" y1="527.8" x2="874.8" y2="535.2" stroke="#a4a4a4" stroke-width="1"/>
<line x1="886.27" y1="527.8" x2="886.27" y2="535.2" stroke="#a4a4a4" stroke-width="1"/>
<line x1="897.74" y1="527.8" x2="897.74" y2="535.2" stroke="#a4a4a4" stroke-width="1"/>
<line x1="909.21" y1="527.8" x2="909.21" y2="535.2" stroke="#a4a4a4" stroke-width="1"/>
<line x1="920.68" y1="527.8" x2="920.68" y2="535.2" stroke="#a4a4a4" stroke-width="1"/>
<line x1="932.15" y1="527.8" x2="932.15" y2="535.2" stroke="#a4a4a4" stroke-width="1"/>
<line x1="943.62" y1="527.8" x2="943.62" y2="535.2" stroke="#a4a4a4" stroke-width="1"/>
<line x1="955.09" y1="527.8" x2="955.09" y2="535.2" stroke="#a4a4a4" stroke-width="1"/>
<line x1="966.56" y1="527.8" x2="966.56" y2="535.2" stroke="#a4a4a4" stroke-width="1"/>
<line x1="978.03" y1="527.8" x2="978.03" y2="535.2" stroke="#a4a4a4" stroke-width="1"/>
<line x1="989.5" y1="527.8" x2="989.5" y2="535.2" stroke="#a4a4a4" stroke-width="1"/>
<line x1="1000.97" y1="527.8" x2="1000.97" y2="535.2" stroke="#a4a4a4" stroke-width="1"/>
<line x1="1012.44" y1="527.8" x2="1012.44" y2="535.2" stroke="#a4a4a4" stroke-width="1"/>
<line x1="1023.92" y1="527.8" x2="1023.92" y2="535.2" stroke="#a4a4a4" stroke-width="1"/>
<line x1="1035.39" y1="527.8" x2="1035.39" y2="535.2" stroke="#a4a4a4" stroke-width="1"/>
<line x1="1046.86" y1="527.8" x2="1046.86" y2="535.2" stroke="#a4a4a4" stroke-width="1"/>
<line x1="1058.33" y1="527.8" x2="1058.33" y2="535.2" stroke="#a4a4a4" stroke-width="1"/>
<line x1="1069.8" y1="527.8" x2="1069.8" y2="535.2" stroke="#a4a4a4" stroke-width="1"/>
<line x1="1081.27" y1="527.8" x2="1081.27" y2="535.2" stroke="#a4a4a4" stroke-width="1"/>
<line x1="1092.74" y1="527.8" x2="1092.74" y2="535.2" stroke="#a4a4a4" stroke-width="1"/>
<line x1="1104.21" y1="527.8" x2="1104.21" y2="535.2" stroke="#a4a4a4" stroke-width="1"/>
<line x1="1115.68" y1="527.8" x2="1115.68" y2="535.2" stroke="#a4a4a4" stroke-width="1"/>
<line x1="1127.15" y1="527.8" x2="1127.15" y2="535.2" stroke="#a4a4a4" stroke-width="1"/>
<line x1="1138.62" y1="527.8" x2="1138.62" y2="535.2" stroke="#a4a4a4" stroke-width="1"/>
<line x1="1150.09" y1="527.8" x2="1150.09" y2="535.2" stroke="#a4a4a4" stroke-width="1"/>
<line x1="1161.56" y1="527.8" x2="1161.56" y2="535.2" stroke="#a4a4a4" stroke-width="1"/>
<line x1="1173.03" y1="527.8" x2="1173.03" y2="535.2" stroke="#a4a4a4" stroke-width="1"/>
<line x1="1184.5" y1="527.8" x2="1184.5" y2="535.2" stroke="#a4a4a4" stroke-width="1"/>
<line x1="1195.97" y1="527.8" x2="1195.97" y2="535.2" stroke="#a4a4a4" stroke-width="1"/>
<line x1="1207.44" y1="527.8" x2="1207.44" y2="535.2" stroke="#a4a4a4" stroke-width="1"/>
<line x1="1218.91" y1="527.8" x2="1218.91" y2="535.2" stroke="#a4a4a4" stroke-width="1"/>
<line x1="1230.38" y1="527.8" x2="1230.38" y2="535.2" stroke="#a4a4a4" stroke-width="1"/>
<line x1="1241.85" y1="527.8" x2="1241.85" y2="535.2" stroke="#a4a4a4" stroke-width="1"/>
<line x1="1253.32" y1="527.8" x2="1253.32" y2="535.2" stroke="#a4a4a4" stroke-width="1"/>
<line x1="1264.8" y1="527.8" x2="1264.8" y2="535.2" stroke="#a4a4a4" stroke-width="1"/>
<line x1="1276.27" y1="527.8" x2="1276.27" y2="535.2" stroke="#a4a4a4" stroke-width="1"/>
<line x1="1287.74" y1="527.8" x2="1287.74" y2="535.2" stroke="#a4a4a4" stroke-width="1"/>
<line x1="1299.21" y1="527.8" x2="1299.21" y2="535.2" stroke="#a4a4a4" stroke-width="1"/>
<line x1="1310.68" y1="527.8" x2="1310.68" y2="535.2" stroke="#a4a4a4" stroke-width="1"/>
<line x1="1322.15" y1="527.8" x2="1322.15" y2="535.2" stroke="#a4a4a4" stroke-width="1"/>
<line x1="1333.62" y1="527.8" x2="1333.62" y2="535.2" stroke="#a4a4a4" stroke-width="1"/>
<line x1="1345.09" y1="527.8" x2="1345.09" y2="535.2" stroke="#a4a4a4" stroke-width="1"/>
<line x1="1356.56" y1="527.8" x2="1356.56" y2="535.2" stroke="#a4a4a4" stroke-width="1"/>
<line x1="1368.03" y1="527.8" x2="1368.03" y2="535.2" stroke="#a4a4a4" stroke-width="1"/>
<line x1="1379.5" y1="527.8" x2="1379.5" y2="535.2" stroke="#a4a4a4" stroke-width="1"/>
<rect x="178.79" y="337.9" width="4.7" height="189.9" fill="#00ff00" stroke="#1a8a1a" stroke-width="0.6"/>
<rect x="190.26" y="337.9" width="4.7" height="189.9" fill="#00ff00" stroke="#1a8a1a" stroke-width="0.6"/>
<rect x="201.73" y="337.9" width="4.7" height="189.9" fill="#00ff00" stroke="#1a8a1a" stroke-width="0.6"/>
<rect x="213.2" y="337.9" width="4.7" height="189.9" fill="#00ff00" stroke="#1a8a1a" stroke-width="0.6"/>
<rect x="224.67" y="337.9" width="4.7" height="189.9" fill="#00ff00" stroke="#1a8a1a" stroke-width="0.6"/>
<rect x="236.14" y="337.9" width="4.7" height="189.9" fill="#00ff00" stroke="#1a8a1a" stroke-width="0.6"/>
<rect x="247.61" y="337.9" width="4.7" height="189.9" fill="#00ff00" stroke="#1a8a1a" stroke-width="0.6"/>
<rect x="259.08" y="337.9" width="4.7" height="189.9" fill="#00ff00" stroke="#1a8a1a" stroke-width="0.6"/>
<rect x="270.55" y="337.9" width="4.7" height="189.9" fill="#00ff00" stroke="#1a8a1a" stroke-width="0.6"/>
<rect x="282.02" y="339.61" width="4.7" height="188.19" fill="#00ff00" stroke="#1a8a1a" stroke-width="0.6"/>
<rect x="282.02" y="337.9" width="4.7" height="1.71" fill="#0070c0" stroke="#0b5e9c" stroke-width="0.6"/>
<rect x="293.49" y="344.55" width="4.7" height="183.25" fill="#00ff00" stroke="#1a8a1a" stroke-width="0.6"/>
<rect x="293.49" y="337.9" width="4.7" height="6.65" fill="#0070c0" stroke="#0b5e9c" stroke-width="0.6"/>
<rect x="304.96" y="345.88" width="4.7" height="181.92" fill="#00ff00" stroke="#1a8a1a" stroke-width="0.6"/>
<rect x="304.96" y="337.9" width="4.7" height="7.98" fill="#0070c0" stroke="#0b5e9c" stroke-width="0.6"/>
<rect x="316.43" y="345.88" width="4.7" height="181.92" fill="#00ff00" stroke="#1a8a1a" stroke-width="0.6"/>
<rect x="316.43" y="337.9" width="4.7" height="7.98" fill="#0070c0" stroke="#0b5e9c" stroke-width="0.6"/>
<rect x="327.9" y="346.83" width="4.7" height="180.97" fill="#00ff00" stroke="#1a8a1a" stroke-width="0.6"/>
<rect x="327.9" y="337.9" width="4.7" height="8.93" fill="#0070c0" stroke="#0b5e9c" stroke-width="0.6"/>
<rect x="339.37" y="347.58" width="4.7" height="180.22" fill="#00ff00" stroke="#1a8a1a" stroke-width="0.6"/>
<rect x="339.37" y="337.9" width="4.7" height="9.68" fill="#0070c0" stroke="#0b5e9c" stroke-width="0.6"/>
<rect x="350.84" y="347.96" width="4.7" height="179.84" fill="#00ff00" stroke="#1a8a1a" stroke-width="0.6"/>
<rect x="350.84" y="337.9" width="4.7" height="10.06" fill="#0070c0" stroke="#0b5e9c" stroke-width="0.6"/>
<rect x="362.31" y="348.53" width="4.7" height="179.27" fill="#00ff00" stroke="#1a8a1a" stroke-width="0.6"/>
<rect x="362.31" y="337.9" width="4.7" height="10.63" fill="#0070c0" stroke="#0b5e9c" stroke-width="0.6"/>
<rect x="373.78" y="349.86" width="4.7" height="177.94" fill="#00ff00" stroke="#1a8a1a" stroke-width="0.6"/>
<rect x="373.78" y="337.9" width="4.7" height="11.96" fill="#0070c0" stroke="#0b5e9c" stroke-width="0.6"/>
<rect x="385.25" y="353.47" width="4.7" height="174.33" fill="#00ff00" stroke="#1a8a1a" stroke-width="0.6"/>
<rect x="385.25" y="346.26" width="4.7" height="7.22" fill="#0070c0" stroke="#0b5e9c" stroke-width="0.6"/>
<rect x="385.25" y="337.9" width="4.7" height="8.36" fill="#ffff00" stroke="#3c3a10" stroke-width="0.9"/>
<rect x="396.72" y="358.03" width="4.7" height="169.77" fill="#00ff00" stroke="#1a8a1a" stroke-width="0.6"/>
<rect x="396.72" y="337.9" width="4.7" height="20.13" fill="#0070c0" stroke="#0b5e9c" stroke-width="0.6"/>
<rect x="408.19" y="358.03" width="4.7" height="169.77" fill="#00ff00" stroke="#1a8a1a" stroke-width="0.6"/>
<rect x="408.19" y="337.9" width="4.7" height="20.13" fill="#0070c0" stroke="#0b5e9c" stroke-width="0.6"/>
<rect x="419.67" y="359.93" width="4.7" height="167.87" fill="#00ff00" stroke="#1a8a1a" stroke-width="0.6"/>
<rect x="419.67" y="337.9" width="4.7" height="22.03" fill="#0070c0" stroke="#0b5e9c" stroke-width="0.6"/>
<rect x="431.14" y="361.64" width="4.7" height="166.16" fill="#00ff00" stroke="#1a8a1a" stroke-width="0.6"/>
<rect x="431.14" y="337.9" width="4.7" height="23.74" fill="#0070c0" stroke="#0b5e9c" stroke-width="0.6"/>
<rect x="442.61" y="362.21" width="4.7" height="165.59" fill="#00ff00" stroke="#1a8a1a" stroke-width="0.6"/>
<rect x="442.61" y="340.75" width="4.7" height="21.46" fill="#0070c0" stroke="#0b5e9c" stroke-width="0.6"/>
<rect x="442.61" y="337.9" width="4.7" height="2.85" fill="#ffff00" stroke="#3c3a10" stroke-width="0.9"/>
<rect x="454.08" y="362.97" width="4.7" height="164.83" fill="#00ff00" stroke="#1a8a1a" stroke-width="0.6"/>
<rect x="454.08" y="337.9" width="4.7" height="25.07" fill="#0070c0" stroke="#0b5e9c" stroke-width="0.6"/>
<rect x="465.55" y="364.3" width="4.7" height="163.5" fill="#00ff00" stroke="#1a8a1a" stroke-width="0.6"/>
<rect x="465.55" y="337.9" width="4.7" height="26.4" fill="#0070c0" stroke="#0b5e9c" stroke-width="0.6"/>
<rect x="477.02" y="365.44" width="4.7" height="162.36" fill="#00ff00" stroke="#1a8a1a" stroke-width="0.6"/>
<rect x="477.02" y="337.9" width="4.7" height="27.54" fill="#0070c0" stroke="#0b5e9c" stroke-width="0.6"/>
<rect x="488.49" y="366.76" width="4.7" height="161.04" fill="#00ff00" stroke="#1a8a1a" stroke-width="0.6"/>
<rect x="488.49" y="337.9" width="4.7" height="28.86" fill="#0070c0" stroke="#0b5e9c" stroke-width="0.6"/>
<rect x="499.96" y="367.52" width="4.7" height="160.28" fill="#00ff00" stroke="#1a8a1a" stroke-width="0.6"/>
<rect x="499.96" y="337.9" width="4.7" height="29.62" fill="#0070c0" stroke="#0b5e9c" stroke-width="0.6"/>
<rect x="511.43" y="368.09" width="4.7" height="159.71" fill="#00ff00" stroke="#1a8a1a" stroke-width="0.6"/>
<rect x="511.43" y="337.9" width="4.7" height="30.19" fill="#0070c0" stroke="#0b5e9c" stroke-width="0.6"/>
<rect x="522.9" y="368.85" width="4.7" height="158.95" fill="#00ff00" stroke="#1a8a1a" stroke-width="0.6"/>
<rect x="522.9" y="337.9" width="4.7" height="30.95" fill="#0070c0" stroke="#0b5e9c" stroke-width="0.6"/>
<rect x="534.37" y="370.75" width="4.7" height="157.05" fill="#00ff00" stroke="#1a8a1a" stroke-width="0.6"/>
<rect x="534.37" y="337.9" width="4.7" height="32.85" fill="#0070c0" stroke="#0b5e9c" stroke-width="0.6"/>
<rect x="545.84" y="376.07" width="4.7" height="151.73" fill="#00ff00" stroke="#1a8a1a" stroke-width="0.6"/>
<rect x="545.84" y="337.9" width="4.7" height="38.17" fill="#0070c0" stroke="#0b5e9c" stroke-width="0.6"/>
<rect x="557.31" y="376.07" width="4.7" height="151.73" fill="#00ff00" stroke="#1a8a1a" stroke-width="0.6"/>
<rect x="557.31" y="337.9" width="4.7" height="38.17" fill="#0070c0" stroke="#0b5e9c" stroke-width="0.6"/>
<rect x="568.78" y="375.31" width="4.7" height="152.49" fill="#00ff00" stroke="#1a8a1a" stroke-width="0.6"/>
<rect x="568.78" y="365.25" width="4.7" height="10.06" fill="#0070c0" stroke="#0b5e9c" stroke-width="0.6"/>
<rect x="568.78" y="337.9" width="4.7" height="27.35" fill="#ffff00" stroke="#3c3a10" stroke-width="0.9"/>
<rect x="580.25" y="379.68" width="4.7" height="148.12" fill="#00ff00" stroke="#1a8a1a" stroke-width="0.6"/>
<rect x="580.25" y="337.9" width="4.7" height="41.78" fill="#0070c0" stroke="#0b5e9c" stroke-width="0.6"/>
<rect x="591.72" y="379.68" width="4.7" height="148.12" fill="#00ff00" stroke="#1a8a1a" stroke-width="0.6"/>
<rect x="591.72" y="337.9" width="4.7" height="41.78" fill="#0070c0" stroke="#0b5e9c" stroke-width="0.6"/>
<rect x="603.19" y="379.68" width="4.7" height="148.12" fill="#00ff00" stroke="#1a8a1a" stroke-width="0.6"/>
<rect x="603.19" y="337.9" width="4.7" height="41.78" fill="#0070c0" stroke="#0b5e9c" stroke-width="0.6"/>
<rect x="614.66" y="380.44" width="4.7" height="147.36" fill="#00ff00" stroke="#1a8a1a" stroke-width="0.6"/>
<rect x="614.66" y="337.9" width="4.7" height="42.54" fill="#0070c0" stroke="#0b5e9c" stroke-width="0.6"/>
<rect x="626.13" y="382.91" width="4.7" height="144.89" fill="#00ff00" stroke="#1a8a1a" stroke-width="0.6"/>
<rect x="626.13" y="337.9" width="4.7" height="45.01" fill="#0070c0" stroke="#0b5e9c" stroke-width="0.6"/>
<rect x="637.6" y="383.86" width="4.7" height="143.94" fill="#00ff00" stroke="#1a8a1a" stroke-width="0.6"/>
<rect x="637.6" y="337.9" width="4.7" height="45.96" fill="#0070c0" stroke="#0b5e9c" stroke-width="0.6"/>
<rect x="649.07" y="384.43" width="4.7" height="143.37" fill="#00ff00" stroke="#1a8a1a" stroke-width="0.6"/>
<rect x="649.07" y="337.9" width="4.7" height="46.53" fill="#0070c0" stroke="#0b5e9c" stroke-width="0.6"/>
<rect x="660.55" y="385.75" width="4.7" height="142.05" fill="#00ff00" stroke="#1a8a1a" stroke-width="0.6"/>
<rect x="660.55" y="337.9" width="4.7" height="47.85" fill="#0070c0" stroke="#0b5e9c" stroke-width="0.6"/>
<rect x="672.02" y="385.75" width="4.7" height="142.05" fill="#00ff00" stroke="#1a8a1a" stroke-width="0.6"/>
<rect x="672.02" y="337.9" width="4.7" height="47.85" fill="#0070c0" stroke="#0b5e9c" stroke-width="0.6"/>
<rect x="683.49" y="386.51" width="4.7" height="141.29" fill="#00ff00" stroke="#1a8a1a" stroke-width="0.6"/>
<rect x="683.49" y="337.9" width="4.7" height="48.61" fill="#0070c0" stroke="#0b5e9c" stroke-width="0.6"/>
<rect x="694.96" y="386.51" width="4.7" height="141.29" fill="#00ff00" stroke="#1a8a1a" stroke-width="0.6"/>
<rect x="694.96" y="337.9" width="4.7" height="48.61" fill="#0070c0" stroke="#0b5e9c" stroke-width="0.6"/>
<rect x="706.43" y="388.03" width="4.7" height="139.77" fill="#00ff00" stroke="#1a8a1a" stroke-width="0.6"/>
<rect x="706.43" y="337.9" width="4.7" height="50.13" fill="#0070c0" stroke="#0b5e9c" stroke-width="0.6"/>
<rect x="717.9" y="387.08" width="4.7" height="140.72" fill="#00ff00" stroke="#1a8a1a" stroke-width="0.6"/>
<rect x="717.9" y="339.8" width="4.7" height="47.29" fill="#0070c0" stroke="#0b5e9c" stroke-width="0.6"/>
<rect x="717.9" y="337.9" width="4.7" height="1.9" fill="#ffff00" stroke="#3c3a10" stroke-width="0.9"/>
<rect x="729.37" y="388.41" width="4.7" height="139.39" fill="#00ff00" stroke="#1a8a1a" stroke-width="0.6"/>
<rect x="729.37" y="337.9" width="4.7" height="50.51" fill="#0070c0" stroke="#0b5e9c" stroke-width="0.6"/>
<rect x="740.84" y="388.41" width="4.7" height="139.39" fill="#00ff00" stroke="#1a8a1a" stroke-width="0.6"/>
<rect x="740.84" y="337.9" width="4.7" height="50.51" fill="#0070c0" stroke="#0b5e9c" stroke-width="0.6"/>
<rect x="752.31" y="390.69" width="4.7" height="137.11" fill="#00ff00" stroke="#1a8a1a" stroke-width="0.6"/>
<rect x="752.31" y="337.9" width="4.7" height="52.79" fill="#0070c0" stroke="#0b5e9c" stroke-width="0.6"/>
<rect x="763.78" y="394.87" width="4.7" height="132.93" fill="#00ff00" stroke="#1a8a1a" stroke-width="0.6"/>
<rect x="763.78" y="337.9" width="4.7" height="56.97" fill="#0070c0" stroke="#0b5e9c" stroke-width="0.6"/>
<rect x="775.25" y="396.01" width="4.7" height="131.79" fill="#00ff00" stroke="#1a8a1a" stroke-width="0.6"/>
<rect x="775.25" y="337.9" width="4.7" height="58.11" fill="#0070c0" stroke="#0b5e9c" stroke-width="0.6"/>
<rect x="786.72" y="394.87" width="4.7" height="132.93" fill="#00ff00" stroke="#1a8a1a" stroke-width="0.6"/>
<rect x="786.72" y="344.55" width="4.7" height="50.32" fill="#0070c0" stroke="#0b5e9c" stroke-width="0.6"/>
<rect x="786.72" y="337.9" width="4.7" height="6.65" fill="#ffff00" stroke="#3c3a10" stroke-width="0.9"/>
<rect x="798.19" y="397.15" width="4.7" height="130.65" fill="#00ff00" stroke="#1a8a1a" stroke-width="0.6"/>
<rect x="798.19" y="337.9" width="4.7" height="59.25" fill="#0070c0" stroke="#0b5e9c" stroke-width="0.6"/>
<rect x="809.66" y="397.15" width="4.7" height="130.65" fill="#00ff00" stroke="#1a8a1a" stroke-width="0.6"/>
<rect x="809.66" y="337.9" width="4.7" height="59.25" fill="#0070c0" stroke="#0b5e9c" stroke-width="0.6"/>
<rect x="821.13" y="398.67" width="4.7" height="129.13" fill="#00ff00" stroke="#1a8a1a" stroke-width="0.6"/>
<rect x="821.13" y="337.9" width="4.7" height="60.77" fill="#0070c0" stroke="#0b5e9c" stroke-width="0.6"/>
<rect x="832.6" y="403.8" width="4.7" height="124" fill="#00ff00" stroke="#1a8a1a" stroke-width="0.6"/>
<rect x="832.6" y="337.9" width="4.7" height="65.9" fill="#0070c0" stroke="#0b5e9c" stroke-width="0.6"/>
<rect x="844.07" y="405.88" width="4.7" height="121.92" fill="#00ff00" stroke="#1a8a1a" stroke-width="0.6"/>
<rect x="844.07" y="337.9" width="4.7" height="67.98" fill="#0070c0" stroke="#0b5e9c" stroke-width="0.6"/>
<rect x="855.54" y="411.01" width="4.7" height="116.79" fill="#00ff00" stroke="#1a8a1a" stroke-width="0.6"/>
<rect x="855.54" y="337.9" width="4.7" height="73.11" fill="#0070c0" stroke="#0b5e9c" stroke-width="0.6"/>
<rect x="867.01" y="413.86" width="4.7" height="113.94" fill="#00ff00" stroke="#1a8a1a" stroke-width="0.6"/>
<rect x="867.01" y="337.9" width="4.7" height="75.96" fill="#0070c0" stroke="#0b5e9c" stroke-width="0.6"/>
<rect x="878.48" y="415.95" width="4.7" height="111.85" fill="#00ff00" stroke="#1a8a1a" stroke-width="0.6"/>
<rect x="878.48" y="337.9" width="4.7" height="78.05" fill="#0070c0" stroke="#0b5e9c" stroke-width="0.6"/>
<rect x="889.95" y="417.85" width="4.7" height="109.95" fill="#00ff00" stroke="#1a8a1a" stroke-width="0.6"/>
<rect x="889.95" y="337.9" width="4.7" height="79.95" fill="#0070c0" stroke="#0b5e9c" stroke-width="0.6"/>
<rect x="901.43" y="413.86" width="4.7" height="113.94" fill="#00ff00" stroke="#1a8a1a" stroke-width="0.6"/>
<rect x="901.43" y="387.46" width="4.7" height="26.4" fill="#0070c0" stroke="#0b5e9c" stroke-width="0.6"/>
<rect x="901.43" y="337.9" width="4.7" height="49.56" fill="#ffff00" stroke="#3c3a10" stroke-width="0.9"/>
<rect x="912.9" y="420.13" width="4.7" height="107.67" fill="#00ff00" stroke="#1a8a1a" stroke-width="0.6"/>
<rect x="912.9" y="337.9" width="4.7" height="82.23" fill="#0070c0" stroke="#0b5e9c" stroke-width="0.6"/>
<rect x="924.37" y="421.08" width="4.7" height="106.72" fill="#00ff00" stroke="#1a8a1a" stroke-width="0.6"/>
<rect x="924.37" y="337.9" width="4.7" height="83.18" fill="#0070c0" stroke="#0b5e9c" stroke-width="0.6"/>
<rect x="935.84" y="422.98" width="4.7" height="104.82" fill="#00ff00" stroke="#1a8a1a" stroke-width="0.6"/>
<rect x="935.84" y="337.9" width="4.7" height="85.08" fill="#0070c0" stroke="#0b5e9c" stroke-width="0.6"/>
<rect x="947.31" y="426.39" width="4.7" height="101.41" fill="#00ff00" stroke="#1a8a1a" stroke-width="0.6"/>
<rect x="947.31" y="346.26" width="4.7" height="80.14" fill="#0070c0" stroke="#0b5e9c" stroke-width="0.6"/>
<rect x="947.31" y="337.9" width="4.7" height="8.36" fill="#ffff00" stroke="#3c3a10" stroke-width="0.9"/>
<rect x="958.78" y="431.14" width="4.7" height="96.66" fill="#00ff00" stroke="#1a8a1a" stroke-width="0.6"/>
<rect x="958.78" y="337.9" width="4.7" height="93.24" fill="#0070c0" stroke="#0b5e9c" stroke-width="0.6"/>
<rect x="970.25" y="433.8" width="4.7" height="94" fill="#00ff00" stroke="#1a8a1a" stroke-width="0.6"/>
<rect x="970.25" y="342.27" width="4.7" height="91.53" fill="#0070c0" stroke="#0b5e9c" stroke-width="0.6"/>
<rect x="970.25" y="337.9" width="4.7" height="4.37" fill="#ffff00" stroke="#3c3a10" stroke-width="0.9"/>
<rect x="981.72" y="437.79" width="4.7" height="90.01" fill="#00ff00" stroke="#1a8a1a" stroke-width="0.6"/>
<rect x="981.72" y="337.9" width="4.7" height="99.89" fill="#0070c0" stroke="#0b5e9c" stroke-width="0.6"/>
<rect x="993.19" y="440.07" width="4.7" height="87.73" fill="#00ff00" stroke="#1a8a1a" stroke-width="0.6"/>
<rect x="993.19" y="352.14" width="4.7" height="87.92" fill="#0070c0" stroke="#0b5e9c" stroke-width="0.6"/>
<rect x="993.19" y="337.9" width="4.7" height="14.24" fill="#ffff00" stroke="#3c3a10" stroke-width="0.9"/>
<rect x="1004.66" y="441.4" width="4.7" height="86.4" fill="#00ff00" stroke="#1a8a1a" stroke-width="0.6"/>
<rect x="1004.66" y="337.9" width="4.7" height="103.5" fill="#0070c0" stroke="#0b5e9c" stroke-width="0.6"/>
<rect x="1016.13" y="450.89" width="4.7" height="76.91" fill="#00ff00" stroke="#1a8a1a" stroke-width="0.6"/>
<rect x="1016.13" y="337.9" width="4.7" height="112.99" fill="#0070c0" stroke="#0b5e9c" stroke-width="0.6"/>
<rect x="1027.6" y="452.03" width="4.7" height="75.77" fill="#00ff00" stroke="#1a8a1a" stroke-width="0.6"/>
<rect x="1027.6" y="337.9" width="4.7" height="114.13" fill="#0070c0" stroke="#0b5e9c" stroke-width="0.6"/>
<rect x="1039.07" y="454.31" width="4.7" height="73.49" fill="#00ff00" stroke="#1a8a1a" stroke-width="0.6"/>
<rect x="1039.07" y="337.9" width="4.7" height="116.41" fill="#0070c0" stroke="#0b5e9c" stroke-width="0.6"/>
<rect x="1050.54" y="458.68" width="4.7" height="69.12" fill="#00ff00" stroke="#1a8a1a" stroke-width="0.6"/>
<rect x="1050.54" y="337.9" width="4.7" height="120.78" fill="#0070c0" stroke="#0b5e9c" stroke-width="0.6"/>
<rect x="1062.01" y="475.58" width="4.7" height="52.22" fill="#00ff00" stroke="#1a8a1a" stroke-width="0.6"/>
<rect x="1062.01" y="337.9" width="4.7" height="137.68" fill="#0070c0" stroke="#0b5e9c" stroke-width="0.6"/>
<rect x="1073.48" y="486.97" width="4.7" height="40.83" fill="#00ff00" stroke="#1a8a1a" stroke-width="0.6"/>
<rect x="1073.48" y="337.9" width="4.7" height="149.07" fill="#0070c0" stroke="#0b5e9c" stroke-width="0.6"/>
<rect x="1084.95" y="486.97" width="4.7" height="40.83" fill="#00ff00" stroke="#1a8a1a" stroke-width="0.6"/>
<rect x="1084.95" y="337.9" width="4.7" height="149.07" fill="#0070c0" stroke="#0b5e9c" stroke-width="0.6"/>
<rect x="1096.42" y="490.58" width="4.7" height="37.22" fill="#00ff00" stroke="#1a8a1a" stroke-width="0.6"/>
<rect x="1096.42" y="337.9" width="4.7" height="152.68" fill="#0070c0" stroke="#0b5e9c" stroke-width="0.6"/>
<rect x="1107.89" y="337.9" width="4.7" height="189.9" fill="#0070c0" stroke="#0b5e9c" stroke-width="0.6"/>
<rect x="1119.36" y="337.9" width="4.7" height="189.9" fill="#0070c0" stroke="#0b5e9c" stroke-width="0.6"/>
<rect x="1130.83" y="337.9" width="4.7" height="189.9" fill="#0070c0" stroke="#0b5e9c" stroke-width="0.6"/>
<rect x="1142.31" y="337.9" width="4.7" height="189.9" fill="#0070c0" stroke="#0b5e9c" stroke-width="0.6"/>
<rect x="1153.78" y="396.58" width="4.7" height="131.22" fill="#0070c0" stroke="#0b5e9c" stroke-width="0.6"/>
<rect x="1153.78" y="337.9" width="4.7" height="58.68" fill="#ffff00" stroke="#3c3a10" stroke-width="0.9"/>
<rect x="1165.25" y="337.9" width="4.7" height="189.9" fill="#ffff00" stroke="#3c3a10" stroke-width="0.9"/>
<rect x="1176.72" y="337.9" width="4.7" height="189.9" fill="#ffff00" stroke="#3c3a10" stroke-width="0.9"/>
<rect x="1188.19" y="337.9" width="4.7" height="189.9" fill="#ffff00" stroke="#3c3a10" stroke-width="0.9"/>
<rect x="1199.66" y="337.9" width="4.7" height="189.9" fill="#ffff00" stroke="#3c3a10" stroke-width="0.9"/>
<rect x="1211.13" y="337.9" width="4.7" height="189.9" fill="#ffff00" stroke="#3c3a10" stroke-width="0.9"/>
<rect x="1222.6" y="337.9" width="4.7" height="189.9" fill="#ffff00" stroke="#3c3a10" stroke-width="0.9"/>
<rect x="1234.07" y="337.9" width="4.7" height="189.9" fill="#ffff00" stroke="#3c3a10" stroke-width="0.9"/>
<text x="154.5" y="534.8" text-anchor="end" class="t18">0%</text>
<text x="154.5" y="496.5" text-anchor="end" class="t18">20%</text>
<text x="154.5" y="458.7" text-anchor="end" class="t18">40%</text>
<text x="154.5" y="421.1" text-anchor="end" class="t18">60%</text>
<text x="154.5" y="382.6" text-anchor="end" class="t18">80%</text>
<text x="154.5" y="344.9" text-anchor="end" class="t18">100%</text>
<text transform="translate(188.84,542.2) rotate(-90)" text-anchor="end" class="tx">C_LA05</text>
<text transform="translate(223.25,542.2) rotate(-90)" text-anchor="end" class="tx">LA25</text>
<text transform="translate(257.66,542.2) rotate(-90)" text-anchor="end" class="tx">LA48</text>
<text transform="translate(292.07,542.2) rotate(-90)" text-anchor="end" class="tx">LA17</text>
<text transform="translate(326.48,542.2) rotate(-90)" text-anchor="end" class="tx">LA47</text>
<text transform="translate(360.89,542.2) rotate(-90)" text-anchor="end" class="tx">LA05</text>
<text transform="translate(395.3,542.2) rotate(-90)" text-anchor="end" class="tx">LA78</text>
<text transform="translate(429.72,542.2) rotate(-90)" text-anchor="end" class="tx">LA86</text>
<text transform="translate(464.13,542.2) rotate(-90)" text-anchor="end" class="tx">LA87</text>
<text transform="translate(498.54,542.2) rotate(-90)" text-anchor="end" class="tx">LA04</text>
<text transform="translate(532.95,542.2) rotate(-90)" text-anchor="end" class="tx">LA83</text>
<text transform="translate(567.36,542.2) rotate(-90)" text-anchor="end" class="tx">LA88</text>
<text transform="translate(601.77,542.2) rotate(-90)" text-anchor="end" class="tx">LA82</text>
<text transform="translate(636.18,542.2) rotate(-90)" text-anchor="end" class="tx">LA20</text>
<text transform="translate(670.6,542.2) rotate(-90)" text-anchor="end" class="tx">LA01</text>
<text transform="translate(705.01,542.2) rotate(-90)" text-anchor="end" class="tx">LA41</text>
<text transform="translate(739.42,542.2) rotate(-90)" text-anchor="end" class="tx">LA54</text>
<text transform="translate(773.83,542.2) rotate(-90)" text-anchor="end" class="tx">LA27</text>
<text transform="translate(808.24,542.2) rotate(-90)" text-anchor="end" class="tx">LA10</text>
<text transform="translate(842.65,542.2) rotate(-90)" text-anchor="end" class="tx">LA66</text>
<text transform="translate(877.06,542.2) rotate(-90)" text-anchor="end" class="tx">C_LA19</text>
<text transform="translate(911.48,542.2) rotate(-90)" text-anchor="end" class="tx">C_LA07</text>
<text transform="translate(945.89,542.2) rotate(-90)" text-anchor="end" class="tx">LA75</text>
<text transform="translate(980.3,542.2) rotate(-90)" text-anchor="end" class="tx">LA58</text>
<text transform="translate(1014.71,542.2) rotate(-90)" text-anchor="end" class="tx">LA77</text>
<text transform="translate(1049.12,542.2) rotate(-90)" text-anchor="end" class="tx">LA55</text>
<text transform="translate(1083.53,542.2) rotate(-90)" text-anchor="end" class="tx">C_LA15</text>
<text transform="translate(1117.94,542.2) rotate(-90)" text-anchor="end" class="tx">C_LA12</text>
<text transform="translate(1152.36,542.2) rotate(-90)" text-anchor="end" class="tx">LA19</text>
<text transform="translate(1186.77,542.2) rotate(-90)" text-anchor="end" class="tx">C_LA04</text>
<text transform="translate(1221.18,542.2) rotate(-90)" text-anchor="end" class="tx">LA43</text>
<text transform="translate(1255.59,542.2) rotate(-90)" text-anchor="end" class="tx">C_LA10</text>
<text transform="translate(1290,542.2) rotate(-90)" text-anchor="end" class="tx">LA09</text>
<text transform="translate(1324.41,542.2) rotate(-90)" text-anchor="end" class="tx">LA16</text>
<text transform="translate(1358.82,542.2) rotate(-90)" text-anchor="end" class="tx">LA61</text>

<text class="big" x="-0.5" y="28">A</text>
<text class="big" x="1.5" y="346.4">B</text>
<text class="t185" transform="translate(69.5,190.8) rotate(-90)" textLength="144.2" lengthAdjust="spacingAndGlyphs">Seagrass density</text>
<text class="t185" transform="translate(94.5,171.2) rotate(-90)" textLength="106" lengthAdjust="spacingAndGlyphs">(shoots/m<tspan dy="-7" font-size="11.5">2</tspan><tspan dy="7">)</tspan></text>
<text class="t185" transform="translate(89.6,490) rotate(-90)" textLength="120.5" lengthAdjust="spacingAndGlyphs">Estimated LAI</text>

</svg>
</body></html>
